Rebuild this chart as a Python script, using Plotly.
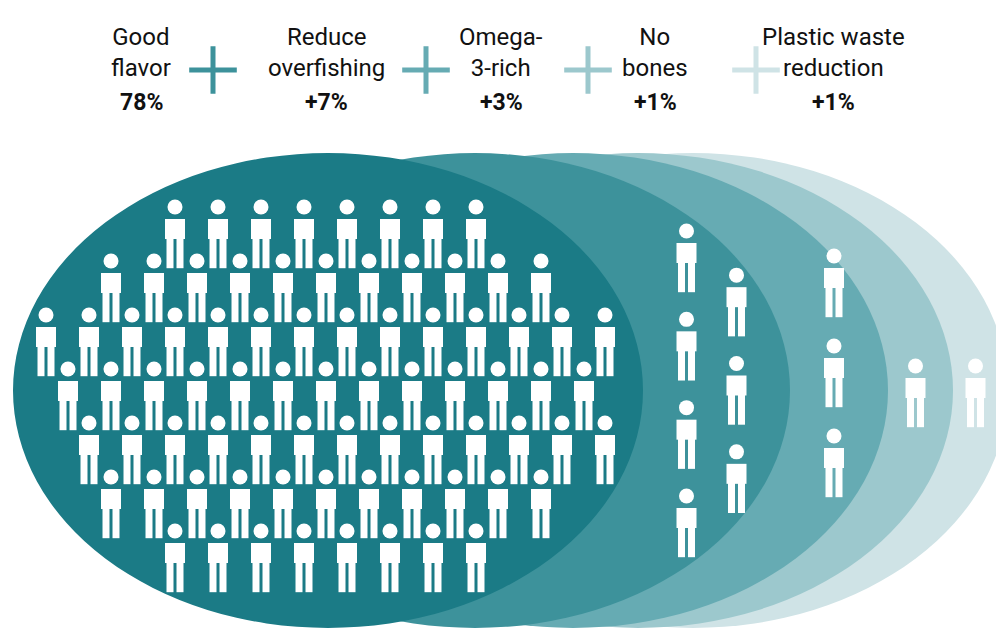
import plotly.graph_objects as go

# chart data
labels = ["Good<br>flavor", "Reduce<br>overfishing", "Omega-<br>3-rich", "No<br>bones", "Plastic waste<br>reduction"]
shares = ["78%", "+7%", "+3%", "+1%", "+1%"]
people = [78, 7, 3, 1, 1]
colors = ["#1b7b86", "#3d929b", "#66abb3", "#9cc8cd", "#cfe3e6"]

W, H = 1004, 639
label_x = [133, 318, 493, 647, 825]
plus_x = [205, 418, 580, 748]
right_edges = [635, 782, 880, 945, 1000]
top, bottom = 145, 620

fig = go.Figure()

# bands, lightest at the back
for i in reversed(range(5)):
    r = right_edges[i]
    fig.add_shape(type="circle", x0=r - 630, x1=r, y0=top, y1=bottom,
                  fillcolor=colors[i], line_width=0, layer="below")

# positions of people icons
pts = []
cx, cy, ax, ay = 318, 388, 285, 205
cand = []
for row in range(-4, 5):
    for col in range(-8, 9):
        x = cx + col * 43 + (21 if row % 2 else 0)
        y = cy + row * 54
        d = ((x - cx) / ax) ** 2 + ((y - cy) / ay) ** 2
        if d <= 1.05:
            cand.append((d, x, y))
cand.sort()
pts += [(x, y) for _, x, y in cand[:people[0]]]

for i in range(1, 5):
    n = people[i]
    left = right_edges[i - 1]
    mid = (left + right_edges[i]) / 2 - 5
    if n == 1:
        pts.append((mid, 385))
        continue
    cols = 2 if n > 3 else 1
    y0, span = (250, 265) if cols == 2 else (275, 180)
    for k in range(n):
        c = k % cols
        x = mid + (c - (cols - 1) / 2) * 50
        y = y0 + k * (span / max(n - 1, 1))
        pts.append((x, y))

xs = [p[0] for p in pts]
ys = [p[1] for p in pts]
white = "white"
fig.add_trace(go.Scatter(x=xs, y=[y - 27 for y in ys], mode="markers",
                         marker=dict(symbol="circle", size=15, color=white), hoverinfo="skip"))
fig.add_trace(go.Scatter(x=xs, y=[y - 5 for y in ys], mode="markers",
                         marker=dict(symbol="square", size=20, color=white), hoverinfo="skip"))
for dx in (-5, 5):
    fig.add_trace(go.Scatter(x=[x + dx for x in xs], y=[y + 16 for y in ys], mode="markers",
                             marker=dict(symbol="line-ns", size=26, line=dict(width=7, color=white)),
                             hoverinfo="skip"))

# header
for i in range(5):
    fig.add_annotation(x=label_x[i], y=44, text=labels[i], showarrow=False,
                       font=dict(size=24, color="#111"), yanchor="middle")
    fig.add_annotation(x=label_x[i], y=94, text="<b>" + shares[i] + "</b>", showarrow=False,
                       font=dict(size=23, color="#111"), yanchor="middle")
fig.add_trace(go.Scatter(x=plus_x, y=[62] * 4, mode="markers",
                         marker=dict(symbol="cross-thin", size=34,
                                     line=dict(width=5, color=colors[1:])),
                         hoverinfo="skip"))

fig.update_xaxes(range=[0, W], visible=False, fixedrange=True)
fig.update_yaxes(range=[H, 0], visible=False, fixedrange=True)
fig.update_layout(width=W, height=H, margin=dict(l=0, r=0, t=0, b=0),
                  plot_bgcolor="white", paper_bgcolor="white", showlegend=False,
                  font=dict(family="Roboto"))
fig.write_html("out.html")
